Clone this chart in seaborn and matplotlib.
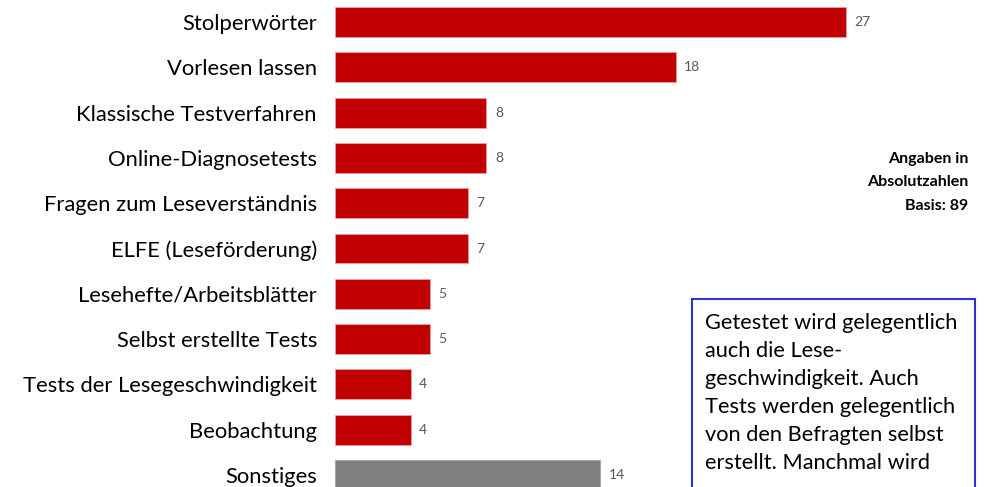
import matplotlib
matplotlib.use("Agg")
import matplotlib.pyplot as plt
from matplotlib.patches import Rectangle
import seaborn as sns
import pandas as pd

categories = [
    "Stolperwörter",
    "Vorlesen lassen",
    "Klassische Testverfahren",
    "Online-Diagnosetests",
    "Fragen zum Leseverständnis",
    "ELFE (Leseförderung)",
    "Lesehefte/Arbeitsblätter",
    "Selbst erstellte Tests",
    "Tests der Lesegeschwindigkeit",
    "Beobachtung",
    "Sonstiges",
]
values = [27, 18, 8, 8, 7, 7, 5, 5, 4, 4, 14]
bar_colors = ["#C00000"] * 10 + ["#808080"]

note_lines = ["Angaben in", "Absolutzahlen", "Basis: 89"]
box_text = (
    "Getestet wird gelegentlich\n"
    "auch die Lese-\n"
    "geschwindigkeit. Auch\n"
    "Tests werden gelegentlich\n"
    "von den Befragten selbst\n"
    "erstellt. Manchmal wird"
)

df = pd.DataFrame({"Kategorie": categories, "Anzahl": values})

sns.set_theme(style="white")
plt.rcParams["font.family"] = ["Lato", "DejaVu Sans"]

fig = plt.figure(figsize=(9.86, 4.87), dpi=100)
ax = fig.add_axes([335 / 986, 0, 1 - 335 / 986, 1])

sns.barplot(
    data=df, x="Anzahl", y="Kategorie", hue="Kategorie",
    palette=bar_colors, saturation=1, legend=False, orient="h", width=0.66,
    edgecolor="#E8A0A0", linewidth=0.6, ax=ax,
)
# grey bar gets a matching grey edge
ax.patches[-1].set_edgecolor("#A0A0A0")

ax.set_xlim(0, 651 / 18.93)
ax.set_ylim(10.265, -0.486)

for i, v in enumerate(values):
    ax.text(v + 0.45, i, str(v), va="center", ha="left",
            fontsize=10, color="#595959")

ax.set_xlabel("")
ax.set_ylabel("")
ax.set_xticks([])
ax.tick_params(axis="y", length=0, pad=13, labelsize=15.8, labelcolor="black")
for s in ax.spines.values():
    s.set_visible(False)

# note on the right
for k, line in enumerate(note_lines):
    fig.text(968 / 986, 1 - (159 + 23.5 * k) / 487, line, ha="right", va="center",
             fontsize=11.5, fontweight="bold", color="black")

# framed comment box, running off the bottom edge
fig.patches.append(Rectangle((692 / 986, -0.2), (975 - 692) / 986, 0.2 + (487 - 299) / 487,
                             transform=fig.transFigure, fill=True, facecolor="white",
                             edgecolor="#3333CC", linewidth=1.5, zorder=5))
fig.text(705 / 986, 1 - 313 / 487, box_text, ha="left", va="top",
         fontsize=15.7, color="black", linespacing=1.5, zorder=6)

fig.savefig("out.png", dpi=100)
